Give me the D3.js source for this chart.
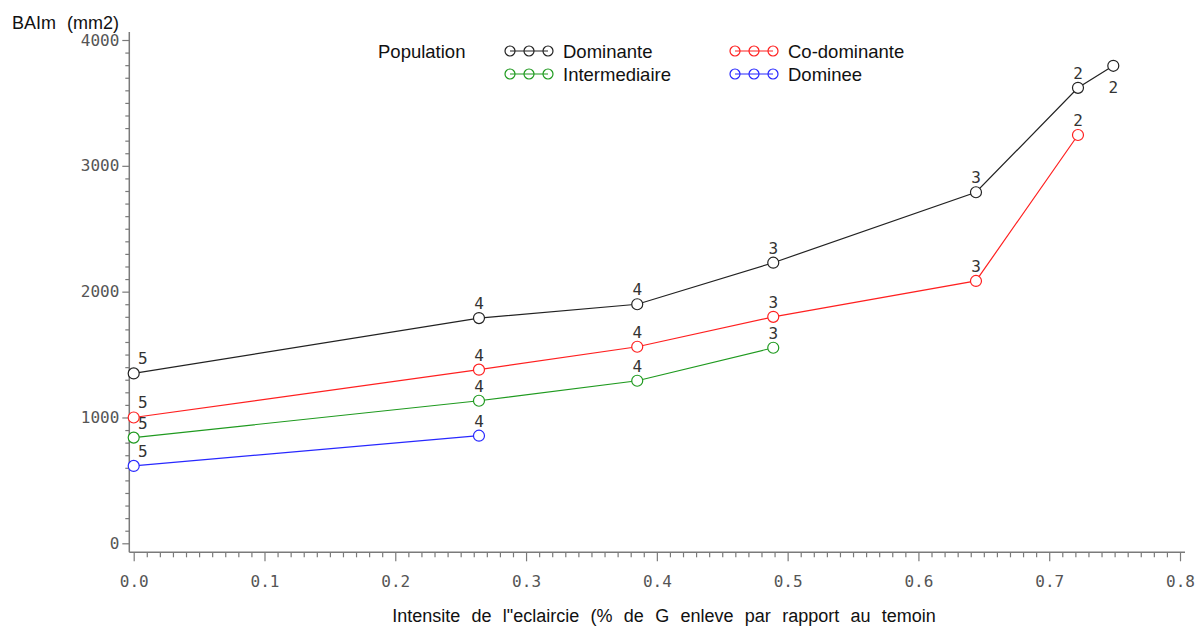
<!DOCTYPE html>
<html>
<head>
<meta charset="utf-8">
<script src="https://cdn.jsdelivr.net/npm/d3@7/dist/d3.min.js"></script>
<style>
html,body{margin:0;padding:0;background:#fff;}
svg{display:block;}
.tick text{font-family:"DejaVu Sans Mono",monospace;}
</style>
</head>
<body>
<svg id="chart" width="1200" height="630"></svg>
<script>
// ---- data ----
const xValues = [0, 0.264, 0.385, 0.489, 0.644, 0.722, 0.749];
const dominante = [1350, 1790, 1900, 2230, 2790, 3620, 3795];
const dominanteN = [5, 4, 4, 3, 3, 2, 2];
const coDominante = [1000, 1380, 1562, 1800, 2085, 3245];
const coDominanteN = [5, 4, 4, 3, 3, 2];
const intermediaire = [840, 1133, 1292, 1554];
const intermediaireN = [5, 4, 4, 3];
const dominee = [615, 855];
const domineeN = [5, 4];
const xTickLabels = ["0.0","0.1","0.2","0.3","0.4","0.5","0.6","0.7","0.8"];
const yTickLabels = ["0","1000","2000","3000","4000"];
const seriesNames = ["Dominante","Co-dominante","Intermediaire","Dominee"];
const seriesColors = ["#222222","#ff2020","#1f9a1f","#2828ff"];

const series = [
  {name: seriesNames[0], values: dominante, n: dominanteN, color: seriesColors[0]},
  {name: seriesNames[1], values: coDominante, n: coDominanteN, color: seriesColors[1]},
  {name: seriesNames[2], values: intermediaire, n: intermediaireN, color: seriesColors[2]},
  {name: seriesNames[3], values: dominee, n: domineeN, color: seriesColors[3]}
];

const svg = d3.select("#chart");
const x = d3.scaleLinear().domain([0, 0.8]).range([133.7, 1180]);
const y = d3.scaleLinear().domain([0, 4000]).range([543.3, 40]);
const axisColor = "#7a7a7a";
const axisX0 = 129.3, axisY0 = 552.3;

// ---- y axis ----
const yMinor = d3.range(0, 4001, 100).filter(v => v % 1000 !== 0);
const gyMinor = svg.append("g").attr("transform", `translate(${axisX0},0)`)
  .call(d3.axisLeft(y).tickValues(yMinor).tickSize(4).tickFormat(""));
const gy = svg.append("g").attr("transform", `translate(${axisX0},0)`)
  .call(d3.axisLeft(y).tickValues(yTickLabels.map(Number)).tickSize(7).tickPadding(3)
    .tickFormat((d,i) => yTickLabels[i]));
[gyMinor, gy].forEach(g => {
  g.select(".domain").remove();
  g.selectAll(".tick line").attr("stroke", axisColor).attr("stroke-width", 1.2);
});
gy.selectAll(".tick text").attr("font-size", 16).attr("fill", "#555").attr("font-family", "DejaVu Sans Mono");
svg.append("line").attr("x1", axisX0).attr("x2", axisX0).attr("y1", 32).attr("y2", axisY0)
  .attr("stroke", axisColor).attr("stroke-width", 1.5);

// ---- x axis ----
const xMinor = d3.range(0, 81).map(v => v / 100).filter((v, i) => i % 10 !== 0);
const gxMinor = svg.append("g").attr("transform", `translate(0,${axisY0})`)
  .call(d3.axisBottom(x).tickValues(xMinor).tickSize(5).tickFormat(""));
const gx = svg.append("g").attr("transform", `translate(0,${axisY0})`)
  .call(d3.axisBottom(x).tickValues(xTickLabels.map(Number)).tickSize(9).tickPadding(14)
    .tickFormat((d,i) => xTickLabels[i]));
[gxMinor, gx].forEach(g => {
  g.select(".domain").remove();
  g.selectAll(".tick line").attr("stroke", axisColor).attr("stroke-width", 1.2);
});
gx.selectAll(".tick text").attr("font-size", 16).attr("fill", "#555").attr("font-family", "DejaVu Sans Mono");
svg.append("line").attr("x1", axisX0).attr("x2", 1185).attr("y1", axisY0).attr("y2", axisY0)
  .attr("stroke", axisColor).attr("stroke-width", 1.5);

// ---- titles ----
svg.append("text").attr("x", 12).attr("y", 29).attr("font-family", "Liberation Sans, Arial, sans-serif")
  .attr("font-size", 18).attr("fill", "#111").attr("word-spacing", 6).text("BAIm (mm2)");
svg.append("text").attr("x", 664).attr("y", 622).attr("text-anchor", "middle")
  .attr("font-family", "Liberation Sans, Arial, sans-serif").attr("font-size", 18).attr("fill", "#111")
  .attr("word-spacing", 6.3).text("Intensite de l\"eclaircie (% de G enleve par rapport au temoin");

// ---- series ----
const line = d3.line().x((d, i) => x(xValues[i])).y(d => y(d));
series.forEach((s, si) => {
  const g = svg.append("g");
  g.append("path").datum(s.values).attr("d", line).attr("fill", "none")
    .attr("stroke", s.color).attr("stroke-width", 1.2);
  g.selectAll("circle").data(s.values).join("circle")
    .attr("cx", (d, i) => x(xValues[i])).attr("cy", d => y(d)).attr("r", 5.5)
    .attr("fill", "#fff").attr("stroke", s.color).attr("stroke-width", 1.2);
  g.selectAll("text").data(s.values).join("text")
    .attr("x", (d, i) => x(xValues[i]) + (i === 0 ? 9 : 0))
    .attr("y", (d, i) => y(d) + ((si === 0 && i === s.values.length - 1) ? 27 : -9))
    .attr("text-anchor", "middle")
    .attr("font-family", "DejaVu Sans Mono").attr("font-size", 16).attr("fill", "#333")
    .text((d, i) => s.n[i]);
});

// ---- legend ----
const lg = svg.append("g").attr("font-family", "Liberation Sans, Arial, sans-serif").attr("font-size", 18.5).attr("fill", "#111");
lg.append("text").attr("x", 378).attr("y", 58).text("Population");
const legendPos = [[510, 51], [735, 51], [510, 74], [735, 74]];
series.forEach((s, si) => {
  const [lx, ly] = legendPos[si];
  const cxs = [lx, lx + 19, lx + 38];
  lg.append("line").attr("x1", cxs[0]).attr("x2", cxs[2]).attr("y1", ly).attr("y2", ly)
    .attr("stroke", s.color).attr("stroke-width", 1.2);
  cxs.forEach(cx => lg.append("circle").attr("cx", cx).attr("cy", ly).attr("r", 5)
    .attr("fill", "none").attr("stroke", s.color).attr("stroke-width", 1.2));
  lg.append("text").attr("x", lx + 53).attr("y", ly + 7).text(s.name);
});
</script>
</body>
</html>
